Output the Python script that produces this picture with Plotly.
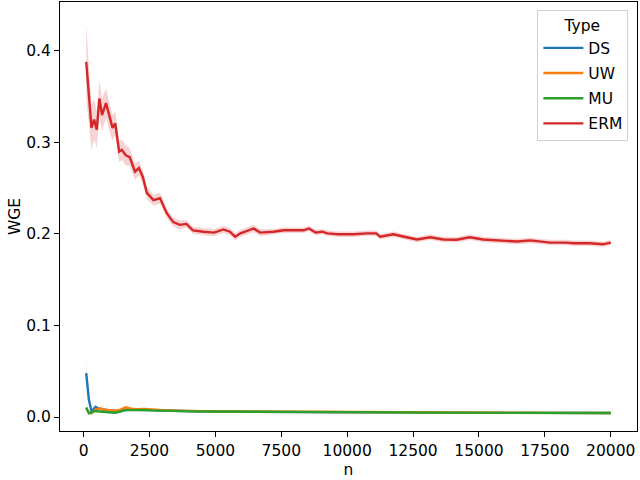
import plotly.graph_objects as go

# ERM curve (mean and half width of the confidence band)
erm_n = [100, 300, 400, 500, 600, 700, 850, 1000, 1100, 1200, 1350, 1450, 1600, 1750,
         1950, 2100, 2250, 2400, 2650, 2900, 3150, 3400, 3650, 3900, 4150, 4550, 4950,
         5300, 5550, 5750, 5950, 6450, 6700, 7200, 7600, 8000, 8350, 8550, 8800, 9050,
         9250, 9650, 10250, 10750, 11100, 11250, 11750, 12250, 12650, 13150, 13650,
         14150, 14650, 15150, 15650, 16450, 16950, 17700, 18300, 18600, 19200, 19700, 20000]
erm_wge = [0.388, 0.316, 0.325, 0.314, 0.348, 0.330, 0.343, 0.325, 0.316, 0.321, 0.290,
           0.292, 0.286, 0.284, 0.268, 0.272, 0.262, 0.245, 0.237, 0.239, 0.223, 0.213,
           0.210, 0.211, 0.204, 0.2025, 0.2015, 0.205, 0.2025, 0.197, 0.2007, 0.206,
           0.2015, 0.2025, 0.204, 0.204, 0.204, 0.206, 0.2015, 0.2025, 0.2007, 0.1997,
           0.1997, 0.2007, 0.2007, 0.197, 0.1997, 0.1964, 0.194, 0.1964, 0.194, 0.1937,
           0.1964, 0.194, 0.193, 0.1917, 0.193, 0.1906, 0.1906, 0.1898, 0.1898, 0.1887, 0.1906]
erm_ci = [0.04, 0.025, 0.022, 0.02, 0.02, 0.018, 0.016, 0.015, 0.014, 0.013, 0.012,
          0.011, 0.011, 0.01, 0.009, 0.008, 0.008, 0.007, 0.006, 0.006, 0.005, 0.005,
          0.005, 0.004, 0.004, 0.004, 0.004, 0.004, 0.004, 0.004, 0.004, 0.004, 0.004,
          0.003, 0.003, 0.003, 0.003, 0.003, 0.003, 0.003, 0.003, 0.003, 0.003, 0.003,
          0.003, 0.003, 0.003, 0.003, 0.003, 0.003, 0.003, 0.003, 0.003, 0.003, 0.003,
          0.003, 0.003, 0.003, 0.003, 0.003, 0.003, 0.003, 0.003]

# DS / UW / MU curves share one n grid
small_n = [100, 200, 300, 450, 600, 800, 1000, 1200, 1400, 1600, 1800, 2000, 2300, 2600,
           3000, 3500, 4000, 5000, 6000, 7000, 8000, 9000, 10000, 11000, 12000, 13000,
           14000, 15000, 16000, 17000, 18000, 19000, 20000]
ds_wge = [0.048, 0.019, 0.006, 0.011, 0.009, 0.008, 0.007, 0.007, 0.0075, 0.008, 0.008,
          0.008, 0.0078, 0.0075, 0.007, 0.0065, 0.006, 0.0058, 0.0057, 0.0055, 0.0053,
          0.0052, 0.005, 0.005, 0.0048, 0.0047, 0.0046, 0.0045, 0.0045, 0.0044, 0.0044,
          0.0043, 0.0043]
uw_wge = [0.0095, 0.005, 0.004, 0.008, 0.0095, 0.008, 0.0075, 0.007, 0.008, 0.0105, 0.009,
          0.0085, 0.0087, 0.008, 0.0075, 0.007, 0.0065, 0.006, 0.006, 0.0058, 0.0056,
          0.0055, 0.0053, 0.0052, 0.005, 0.0049, 0.0048, 0.0047, 0.0046, 0.0046, 0.0045,
          0.0045, 0.0044]
mu_wge = [0.0105, 0.004, 0.005, 0.0066, 0.006, 0.0055, 0.005, 0.0047, 0.006, 0.0077,
          0.0075, 0.0077, 0.0077, 0.0072, 0.0068, 0.0062, 0.0062, 0.006, 0.0058, 0.0056,
          0.0055, 0.0054, 0.0052, 0.0051, 0.0049, 0.0048, 0.0047, 0.0046, 0.0045, 0.0045,
          0.0044, 0.0043, 0.0043]
ds_ci = [0.012, 0.004, 0.002, 0.002, 0.0015, 0.0015, 0.0012, 0.0012, 0.001, 0.001, 0.001,
         0.001, 0.001, 0.001, 0.0008, 0.0008, 0.0008, 0.0006, 0.0006, 0.0006, 0.0005,
         0.0005, 0.0005, 0.0005, 0.0004, 0.0004, 0.0004, 0.0004, 0.0004, 0.0004, 0.0004,
         0.0004, 0.0004]
uw_ci = [0.002, 0.0015, 0.0015, 0.0015, 0.0015, 0.0012, 0.0012, 0.0012, 0.001, 0.001,
         0.001, 0.001, 0.001, 0.001, 0.0008, 0.0008, 0.0008, 0.0006, 0.0006, 0.0006,
         0.0005, 0.0005, 0.0005, 0.0005, 0.0004, 0.0004, 0.0004, 0.0004, 0.0004, 0.0004,
         0.0004, 0.0004, 0.0004]
mu_ci = uw_ci

x_ticks = [0, 2500, 5000, 7500, 10000, 12500, 15000, 17500, 20000]
y_ticks = [0.0, 0.1, 0.2, 0.3, 0.4]

series = [
    ("DS", small_n, ds_wge, ds_ci, "31,119,180"),
    ("UW", small_n, uw_wge, uw_ci, "255,127,14"),
    ("MU", small_n, mu_wge, mu_ci, "44,160,44"),
    ("ERM", erm_n, erm_wge, erm_ci, "214,39,40"),
]

FS = 15.5

fig = go.Figure()
for name, n, wge, ci, rgb in series:
    upper = [v + c for v, c in zip(wge, ci)]
    lower = [v - c for v, c in zip(wge, ci)]
    fig.add_trace(go.Scatter(
        x=n + n[::-1], y=upper + lower[::-1], fill="toself",
        fillcolor=f"rgba({rgb},0.2)", line=dict(width=0),
        hoverinfo="skip", showlegend=False,
    ))
for name, n, wge, ci, rgb in series:
    fig.add_trace(go.Scatter(
        x=n, y=wge, mode="lines", name=name, legendgroup=name,
        line=dict(color=f"rgb({rgb})", width=2.4),
    ))

axis_style = dict(
    showline=True, mirror=True, linecolor="black", linewidth=1,
    ticks="outside", ticklen=5, tickwidth=1, tickcolor="black",
    showgrid=False, zeroline=False,
    tickfont=dict(size=FS, color="black"),
)
fig.update_xaxes(
    range=[-895, 20995], tickvals=x_ticks, ticktext=[str(t) for t in x_ticks],
    title=dict(text="n", font=dict(size=FS, color="black"), standoff=5), **axis_style,
)
fig.update_yaxes(
    range=[-0.0153, 0.4535], tickvals=y_ticks, ticktext=[f"{t:.1f}" for t in y_ticks],
    title=dict(text="WGE", font=dict(size=FS, color="black"), standoff=1), **axis_style,
)
fig.update_layout(
    width=640, height=480,
    margin=dict(l=60, r=3, t=2, b=49, autoexpand=False),
    plot_bgcolor="white", paper_bgcolor="white",
    font=dict(family="DejaVu Sans", size=FS, color="black"),
    legend=dict(
        title=dict(text="Type", side="top center", font=dict(size=FS)),
        font=dict(size=FS),
        x=0.985, y=0.981, xanchor="right", yanchor="top",
        bgcolor="white", bordercolor="#d0d0d0", borderwidth=1,
        tracegroupgap=2, itemwidth=40,
    ),
    showlegend=True,
)

fig.write_html("out.html", config={"displayModeBar": False},
               post_script="document.body.style.margin = '0';")
